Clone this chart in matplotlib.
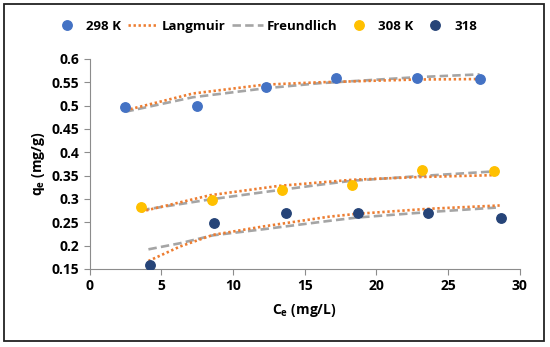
import matplotlib
matplotlib.use("Agg")
import matplotlib.pyplot as plt
from matplotlib.patches import Rectangle

# measured points
ce_298 = [2.5, 7.5, 12.3, 17.2, 22.8, 27.2]
qe_298 = [0.498, 0.500, 0.540, 0.560, 0.560, 0.558]
ce_308 = [3.6, 8.5, 13.4, 18.3, 23.2, 28.2]
qe_308 = [0.283, 0.298, 0.320, 0.330, 0.362, 0.360]
ce_318 = [4.2, 8.7, 13.7, 18.7, 23.6, 28.7]
qe_318 = [0.158, 0.248, 0.270, 0.270, 0.270, 0.259]

# fitted curves
fit_x_298 = [2.5, 7.2, 12.2, 16.0, 22.8, 27.2]
lang_298 = [0.490, 0.526, 0.545, 0.550, 0.556, 0.557]
freu_298 = [0.487, 0.518, 0.537, 0.548, 0.561, 0.567]
fit_x_308 = [3.6, 8.4, 13.2, 16.7, 18.3, 23.0, 28.2]
lang_308 = [0.273, 0.308, 0.328, 0.337, 0.341, 0.347, 0.351]
freu_308 = [0.276, 0.299, 0.319, 0.333, 0.339, 0.349, 0.359]
fit_x_318 = [4.1, 6.3, 8.6, 12.1, 16.7, 18.6, 23.7, 28.6]
lang_318 = [0.167, 0.198, 0.223, 0.241, 0.262, 0.268, 0.279, 0.286]
freu_318 = [0.192, 0.205, 0.222, 0.235, 0.253, 0.260, 0.272, 0.282]

x_ticks = [0, 5, 10, 15, 20, 25, 30]
y_ticks = [0.15, 0.2, 0.25, 0.3, 0.35, 0.4, 0.45, 0.5, 0.55, 0.6]

plt.rcParams["font.family"] = ["Open Sans", "DejaVu Sans"]
plt.rcParams["font.weight"] = "bold"
plt.rcParams["mathtext.fontset"] = "custom"
plt.rcParams["mathtext.rm"] = "Open Sans:bold"

fig = plt.figure(figsize=(5.5, 3.47), dpi=100)
ax = fig.add_axes([0.163, 0.225, 0.782, 0.605])

orange = "#ED7D31"
gray = "#A5A5A5"
dot = (0, (0.9, 1.0))
dash = (0, (3.2, 1.6))
lw = 1.9

for fx, lg, fr in [(fit_x_298, lang_298, freu_298),
                   (fit_x_308, lang_308, freu_308),
                   (fit_x_318, lang_318, freu_318)]:
    ax.plot(fx, fr, color=gray, ls=dash, lw=lw, zorder=2)
    ax.plot(fx, lg, color=orange, ls=dot, lw=lw, zorder=3)

ms = 6.8
p1, = ax.plot(ce_298, qe_298, "o", color="#4472C4", ms=ms, zorder=4)
p2, = ax.plot(ce_308, qe_308, "o", color="#FFC000", ms=ms, zorder=4)
p3, = ax.plot(ce_318, qe_318, "o", color="#264478", ms=ms, zorder=4)
hl, = ax.plot([], [], color=orange, ls=dot, lw=lw)
hf, = ax.plot([], [], color=gray, ls=dash, lw=lw)

ax.set_xlim(0, 30)
ax.set_ylim(0.15, 0.6)
ax.set_xticks(x_ticks)
ax.set_yticks(y_ticks)
ax.set_yticklabels([f"{v:g}" for v in y_ticks])
for s in ["top", "right"]:
    ax.spines[s].set_visible(False)
for s in ["left", "bottom"]:
    ax.spines[s].set_color("#8C8C8C")
ax.tick_params(colors="#8C8C8C", labelcolor="black", labelsize=10, length=4)
ax.set_xlabel(r"C$_\mathrm{e}$ (mg/L)", fontsize=10, fontweight="bold", labelpad=6)
ax.set_ylabel(r"q$_\mathrm{e}$ (mg/g)", fontsize=10, fontweight="bold", labelpad=3)

fig.legend([p1, hl, hf, p2, p3], ["298 K", "Langmuir", "Freundlich", "308 K", "318"],
           loc="center", bbox_to_anchor=(0.481, 0.925), ncol=5, frameon=False,
           fontsize=9.5, handlelength=2.3, handletextpad=0.3, columnspacing=0.5)

fig.patches.append(Rectangle((4 / 550, 1 - 341 / 347), 540 / 550, 337 / 347,
                             transform=fig.transFigure, fill=False,
                             edgecolor="#222222", lw=1.3))

fig.savefig("out.png", dpi=100)
